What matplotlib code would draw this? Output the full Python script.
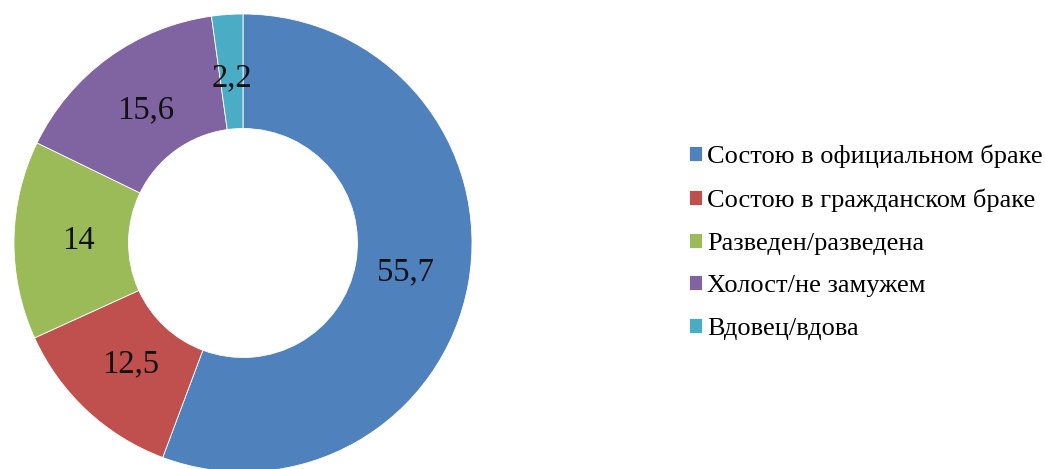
import matplotlib
matplotlib.use("Agg")
import matplotlib.pyplot as plt

categories = ["Состою в официальном браке", "Состою в гражданском браке",
              "Разведен/разведена", "Холост/не замужем", "Вдовец/вдова"]
values = [55.7, 12.5, 14, 15.6, 2.2]
labels = ["55,7", "12,5", "14", "15,6", "2,2"]
colors = ["#4F81BD", "#C0504D", "#9BBB59", "#8064A2", "#4BACC6"]

W, H = 1045, 469
fig = plt.figure(figsize=(W / 100, H / 100), dpi=100)
cx, cy, R = 243, 243, 229
ax = fig.add_axes([(cx - R) / W, (H - cy - R) / H, 2 * R / W, 2 * R / H])

wedges, texts = ax.pie(values, colors=colors, startangle=90, counterclock=False,
                       radius=1, labels=labels, labeldistance=0.72,
                       wedgeprops=dict(width=0.5, edgecolor="white", linewidth=0.6),
                       textprops=dict(fontsize=23.5, family="Liberation Serif", color="#111111",
                                      ha="center", va="center"))
ax.set_xlim(-1, 1)
ax.set_ylim(-1, 1)
ax.set_aspect("equal")
ax.axis("off")

fig.legend(wedges, categories, loc="center left",
           bbox_to_anchor=(689 / W, 1 - 242 / H),
           frameon=False, prop=dict(family="Liberation Serif", size=19),
           handlelength=0.5, handleheight=0.5, handletextpad=0.2,
           labelspacing=0.78, borderpad=0, borderaxespad=0)

fig.savefig("out.png", dpi=100)
